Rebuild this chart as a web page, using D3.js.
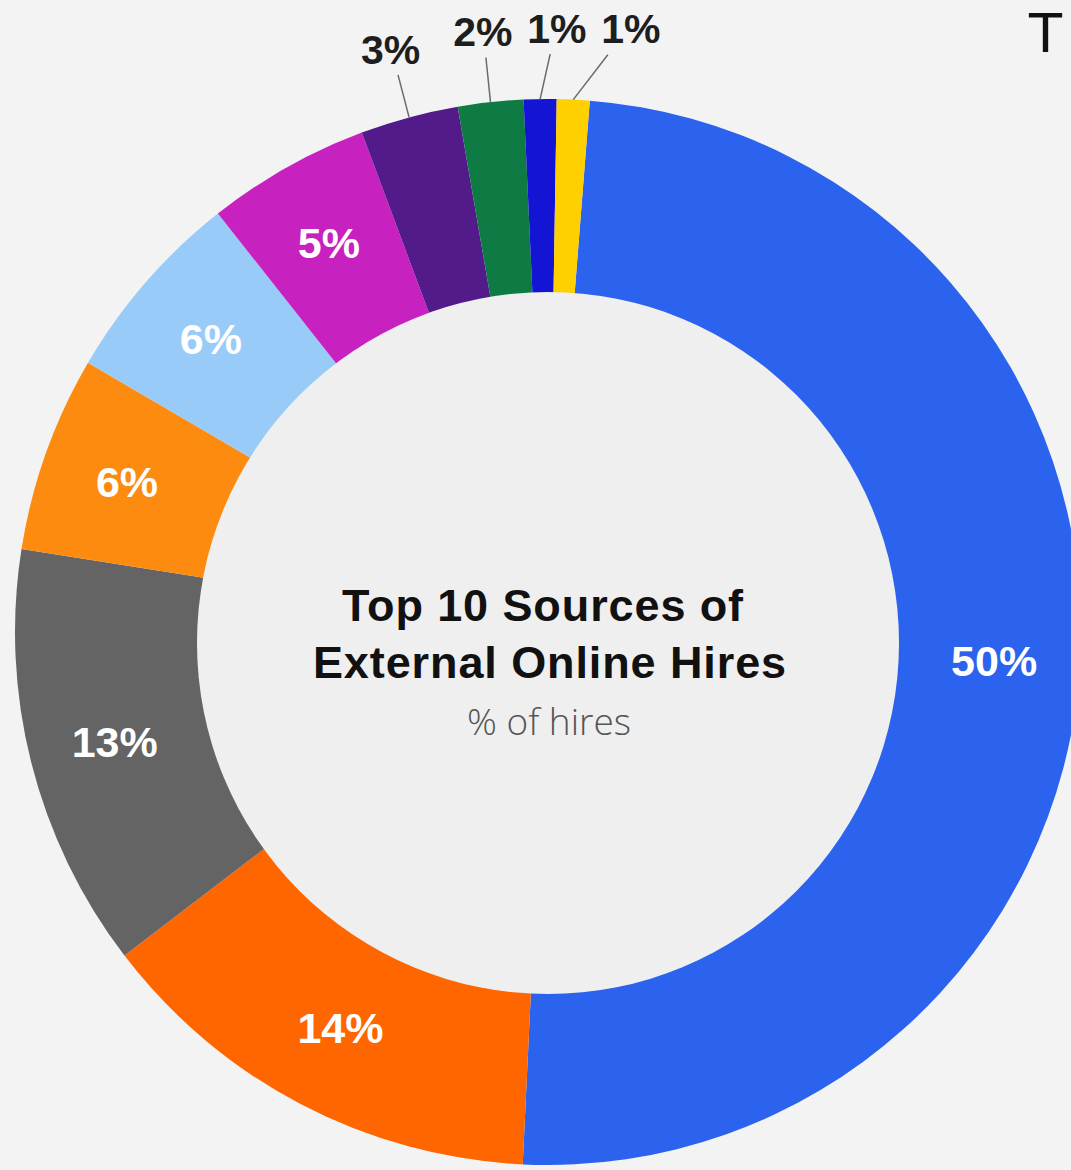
<!DOCTYPE html>
<html>
<head>
<meta charset="utf-8">
<script src="https://cdn.jsdelivr.net/npm/d3@7"></script>
<style>
  html, body { margin: 0; padding: 0; background: #f3f3f3; }
  svg { display: block; }
</style>
</head>
<body>
<svg id="chart" width="1071" height="1170"></svg>
<script>
// Share of hires per source, clockwise from the top of the ring
const shares = [50, 14, 13, 6, 6, 5, 3, 2, 1, 1];
const sliceColors = ["#2b63ee", "#ff6600", "#646464", "#fd8b0f", "#99cbf8",
                     "#c722c0", "#531a8a", "#0e7a44", "#1414d4", "#ffd000"];
// where each value label sits: inside the ring or outside with a leader line
const labelPlacement = ["in", "in", "in", "in", "in", "in", "out", "out", "out", "out"];
const titleLines = ["Top 10 Sources of", "External Online Hires"];
const subtitle = "% of hires";

const W = 1071, H = 1170;
const cx = 548, cy = 632;
const outerR = 533;
const holeCx = 548, holeCy = 643, holeR = 351;
const rotation = 4.5 * Math.PI / 180;

const svg = d3.select("#chart");
svg.append("rect").attr("width", W).attr("height", H).attr("fill", "#f3f3f3");

const pie = d3.pie().sort(null).value(d => d)
  .startAngle(rotation).endAngle(rotation + 2 * Math.PI);
const arcs = pie(shares);

const arc = d3.arc().innerRadius(0).outerRadius(outerR);
const labelArc = d3.arc().innerRadius(447).outerRadius(447);

const g = svg.append("g").attr("transform", `translate(${cx},${cy})`);

g.selectAll("path.slice")
  .data(arcs)
  .join("path")
  .attr("class", "slice")
  .attr("d", arc)
  .attr("fill", (d, i) => sliceColors[i]);

// donut hole
svg.append("circle")
  .attr("cx", holeCx).attr("cy", holeCy).attr("r", holeR)
  .attr("fill", "#efefef");

const fmt = v => v + "%";
const labelFont = "'Liberation Sans', Arial, Helvetica, sans-serif";

// labels inside the ring
g.selectAll("text.inside")
  .data(arcs.filter((d, i) => labelPlacement[i] === "in"))
  .join("text")
  .attr("class", "inside")
  .attr("transform", d => `translate(${labelArc.centroid(d)})`)
  .attr("text-anchor", "middle")
  .attr("dy", "0.36em")
  .attr("font-family", labelFont)
  .attr("font-weight", "bold")
  .attr("font-size", 43)
  .attr("fill", "#ffffff")
  .text(d => fmt(d.data));

// labels outside for the thin slices, spread so they do not collide
const outside = arcs.filter((d, i) => labelPlacement[i] === "out").map(d => {
  const mid = (d.startAngle + d.endAngle) / 2;
  return {
    d,
    mid,
    x: 604 * Math.sin(mid),
    y: -604 * Math.cos(mid)
  };
}).sort((a, b) => a.x - b.x);
const minGap = 74;
for (let k = 1; k < outside.length; k++) {
  outside[k].x = Math.max(outside[k].x, outside[k - 1].x + minGap);
}

outside.forEach(o => {
  const ex = outerR * Math.sin(o.mid), ey = -outerR * Math.cos(o.mid);
  o.lx1 = ex; o.ly1 = ey;
  o.lx2 = ex + (o.x - ex) * 0.6;
  o.ly2 = o.y + 26;
});

g.selectAll("line.leader")
  .data(outside)
  .join("line")
  .attr("class", "leader")
  .attr("x1", o => o.lx1).attr("y1", o => o.ly1)
  .attr("x2", o => o.lx2).attr("y2", o => o.ly2)
  .attr("stroke", "#6b6b6b")
  .attr("stroke-width", 1.5);

g.selectAll("text.outside")
  .data(outside)
  .join("text")
  .attr("class", "outside")
  .attr("x", o => o.x)
  .attr("y", o => o.y)
  .attr("text-anchor", "middle")
  .attr("dy", "0.36em")
  .attr("font-family", labelFont)
  .attr("font-weight", "bold")
  .attr("font-size", 41)
  .attr("fill", "#1e1e1e")
  .text(o => fmt(o.d.data));

// centre title
const title = svg.append("text")
  .attr("text-anchor", "middle")
  .attr("font-family", labelFont)
  .attr("font-weight", "bold")
  .attr("font-size", 45)
  .attr("letter-spacing", 0.9)
  .attr("fill", "#111111");
title.append("tspan").attr("x", 543).attr("y", 621).text(titleLines[0]);
title.append("tspan").attr("x", 550).attr("y", 678).text(titleLines[1]);

svg.append("text")
  .attr("x", 549).attr("y", 735)
  .attr("text-anchor", "middle")
  .attr("font-family", "'Open Sans', 'Liberation Sans', sans-serif")
  .attr("font-weight", 300)
  .attr("font-size", 37)
  .attr("fill", "#555555")
  .text(subtitle);

// heading letter at the top right edge
svg.append("text")
  .attr("x", 1029).attr("y", 52)
  .attr("font-family", "'DejaVu Sans', sans-serif")
  .attr("font-size", 54)
  .attr("fill", "#111111")
  .text("T");
</script>
</body>
</html>
